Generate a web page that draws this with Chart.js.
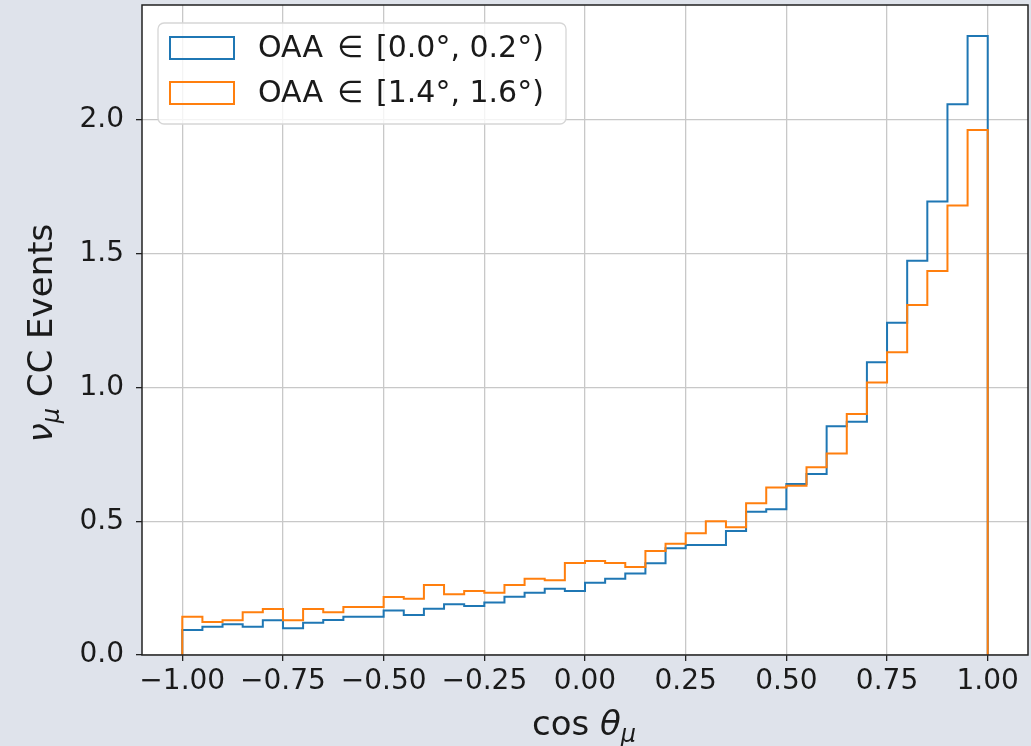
<!DOCTYPE html>
<html>
<head>
<meta charset="utf-8">
<script src="https://cdn.jsdelivr.net/npm/chart.js@4.4.1/dist/chart.umd.min.js"></script>
<style>
  html, body { margin: 0; padding: 0; background: #dfe3eb; }
  canvas { display: block; }
</style>
</head>
<body>
<canvas id="c" width="1031" height="746"></canvas>
<script>
// Bin edges (cos θμ), 40 bins
const binEdges = [-1.00,-0.95,-0.90,-0.85,-0.80,-0.75,-0.70,-0.65,-0.60,-0.55,
                  -0.50,-0.45,-0.40,-0.35,-0.30,-0.25,-0.20,-0.15,-0.10,-0.05,
                   0.00, 0.05, 0.10, 0.15, 0.20, 0.25, 0.30, 0.35, 0.40, 0.45,
                   0.50, 0.55, 0.60, 0.65, 0.70, 0.75, 0.80, 0.85, 0.90, 0.95, 1.00];

// OAA ∈ [0.0°, 0.2°)
const oaaLow = [0.093,0.106,0.115,0.106,0.130,0.100,0.121,0.131,0.143,0.143,
                0.166,0.150,0.173,0.190,0.183,0.196,0.218,0.233,0.248,0.239,
                0.270,0.285,0.305,0.343,0.399,0.411,0.411,0.464,0.536,0.545,
                0.639,0.677,0.855,0.872,1.094,1.242,1.474,1.695,2.059,2.314];

// OAA ∈ [1.4°, 1.6°)
const oaaHigh = [0.143,0.123,0.130,0.160,0.172,0.130,0.172,0.160,0.179,0.179,
                 0.217,0.210,0.262,0.227,0.239,0.233,0.262,0.285,0.279,0.344,
                 0.351,0.344,0.329,0.389,0.416,0.455,0.500,0.478,0.567,0.626,
                 0.633,0.702,0.753,0.901,1.019,1.132,1.308,1.436,1.680,1.963];

const xTicks = [-1.00,-0.75,-0.50,-0.25,0.00,0.25,0.50,0.75,1.00];
const yTicks = [0.0,0.5,1.0,1.5,2.0];
const seriesLabels = ['OAA ∈ [0.0°, 0.2°)', 'OAA ∈ [1.4°, 1.6°)'];
const seriesColors = ['#1f77b4', '#ff7f0e'];

function stepPoints(values) {
  const pts = [{x: binEdges[0], y: 0}];
  values.forEach((v, i) => pts.push({x: binEdges[i], y: v}));
  pts.push({x: binEdges[binEdges.length - 1], y: 0});
  return pts;
}

const FONT = '"DejaVu Sans", sans-serif';

const framePlugin = {
  id: 'frame',
  beforeDraw(chart) {
    const ctx = chart.ctx, a = chart.chartArea;
    ctx.save();
    ctx.fillStyle = '#dfe3eb';
    ctx.fillRect(0, 0, chart.width, chart.height);
    ctx.fillStyle = '#ffffff';
    ctx.fillRect(a.left, a.top, a.right - a.left, a.bottom - a.top);
    ctx.restore();
  },
  afterDatasetsDraw(chart) {
    const ctx = chart.ctx, a = chart.chartArea;
    ctx.save();
    ctx.strokeStyle = '#222';
    ctx.lineWidth = 1.5;
    ctx.strokeRect(a.left, a.top, a.right - a.left, a.bottom - a.top);
    ctx.restore();
  },
  afterDraw(chart) {
    const ctx = chart.ctx, a = chart.chartArea;
    ctx.save();
    // Legend
    const lx = 158, ly = 23, lw = 408, lh = 101;
    ctx.beginPath();
    ctx.roundRect(lx, ly, lw, lh, 6);
    ctx.fillStyle = 'rgba(255,255,255,0.8)';
    ctx.fill();
    ctx.strokeStyle = '#d6d6d6';
    ctx.lineWidth = 1.3;
    ctx.stroke();
    const rows = [48, 93];
    ctx.font = '30px ' + FONT;
    ctx.textBaseline = 'middle';
    ctx.textAlign = 'left';
    for (let i = 0; i < 2; i++) {
      ctx.strokeStyle = seriesColors[i];
      ctx.lineWidth = 2;
      ctx.strokeRect(170, rows[i] - 11, 64, 22);
      ctx.fillStyle = '#1a1a1a';
      const parts = seriesLabels[i].split('∈');
      const left = parts[0].trim(), right = parts[1].trim();
      ctx.fillText(left, 258, rows[i] + 1);
      ctx.fillText('∈', 337, rows[i] + 1);
      ctx.fillText(right, 376, rows[i] + 1);
    }

    // X axis title: cos θ_μ
    ctx.fillStyle = '#1a1a1a';
    ctx.textBaseline = 'alphabetic';
    const reg = '34px ' + FONT, ita = 'italic 34px ' + FONT, sub = 'italic 24px ' + FONT;
    ctx.font = reg; const w1 = ctx.measureText('cos ').width;
    ctx.font = ita; const w2 = ctx.measureText('θ').width;
    ctx.font = sub; const w3 = ctx.measureText('μ').width;
    const cx = (a.left + a.right) / 2;
    let x = cx - (w1 + w2 + w3) / 2 - 1;
    const by = 735;
    ctx.font = reg; ctx.fillText('cos ', x, by); x += w1;
    ctx.font = ita; ctx.fillText('θ', x, by); x += w2;
    ctx.font = sub; ctx.fillText('μ', x, by + 7);

    // Y axis title: ν_μ CC Events
    ctx.save();
    ctx.translate(52, (a.top + a.bottom) / 2 + 3);
    ctx.rotate(-Math.PI / 2);
    ctx.font = ita; const v1 = ctx.measureText('ν').width;
    ctx.font = sub; const v2 = ctx.measureText('μ').width;
    ctx.font = reg; const v3 = ctx.measureText(' CC Events').width;
    let tx = -(v1 + v2 + v3) / 2;
    ctx.font = ita; ctx.fillText('ν', tx, 0); tx += v1;
    ctx.font = sub; ctx.fillText('μ', tx, 7); tx += v2;
    ctx.font = reg; ctx.fillText(' CC Events', tx, 0);
    ctx.restore();

    ctx.restore();
  }
};

new Chart(document.getElementById('c'), {
  type: 'line',
  data: {
    datasets: [
      {
        label: seriesLabels[0],
        data: stepPoints(oaaLow),
        borderColor: seriesColors[0],
        borderWidth: 2,
        stepped: 'before',
        pointRadius: 0,
        fill: false,
        order: 1
      },
      {
        label: seriesLabels[1],
        data: stepPoints(oaaHigh),
        borderColor: seriesColors[1],
        borderWidth: 2,
        stepped: 'before',
        pointRadius: 0,
        fill: false,
        order: 0
      }
    ]
  },
  options: {
    responsive: false,
    devicePixelRatio: 1,
    animation: false,
    layout: { padding: { top: 5, right: 3, left: 0, bottom: 0 } },
    plugins: { legend: { display: false }, tooltip: { enabled: false } },
    scales: {
      x: {
        type: 'linear',
        min: -1.1,
        max: 1.1,
        afterBuildTicks: (axis) => { axis.ticks = xTicks.map(v => ({ value: v })); },
        afterFit: (scale) => { scale.height = 91; scale.paddingLeft = 0; scale.paddingRight = 0; },
        ticks: {
          autoSkip: false,
          maxRotation: 0,
          color: '#1a1a1a',
          font: { family: FONT, size: 28 },
          padding: 4,
          callback: (v) => (v < 0 ? '\u2212' : '') + Math.abs(v).toFixed(2)
        },
        grid: { color: '#c8c8c8', lineWidth: 1.3, tickColor: '#222', tickLength: 6, tickWidth: 1.3 },
        border: { display: false }
      },
      y: {
        type: 'linear',
        min: 0,
        max: 2.43,
        afterBuildTicks: (axis) => { axis.ticks = yTicks.map(v => ({ value: v })); },
        afterFit: (scale) => { scale.width = 142; scale.paddingTop = 0; scale.paddingBottom = 0; },
        ticks: {
          color: '#1a1a1a',
          font: { family: FONT, size: 28 },
          padding: 12,
          callback: (v) => v.toFixed(1)
        },
        grid: { color: '#c8c8c8', lineWidth: 1.3, tickColor: '#222', tickLength: 6, tickWidth: 1.3 },
        border: { display: false }
      }
    }
  },
  plugins: [framePlugin]
});
</script>
</body>
</html>
